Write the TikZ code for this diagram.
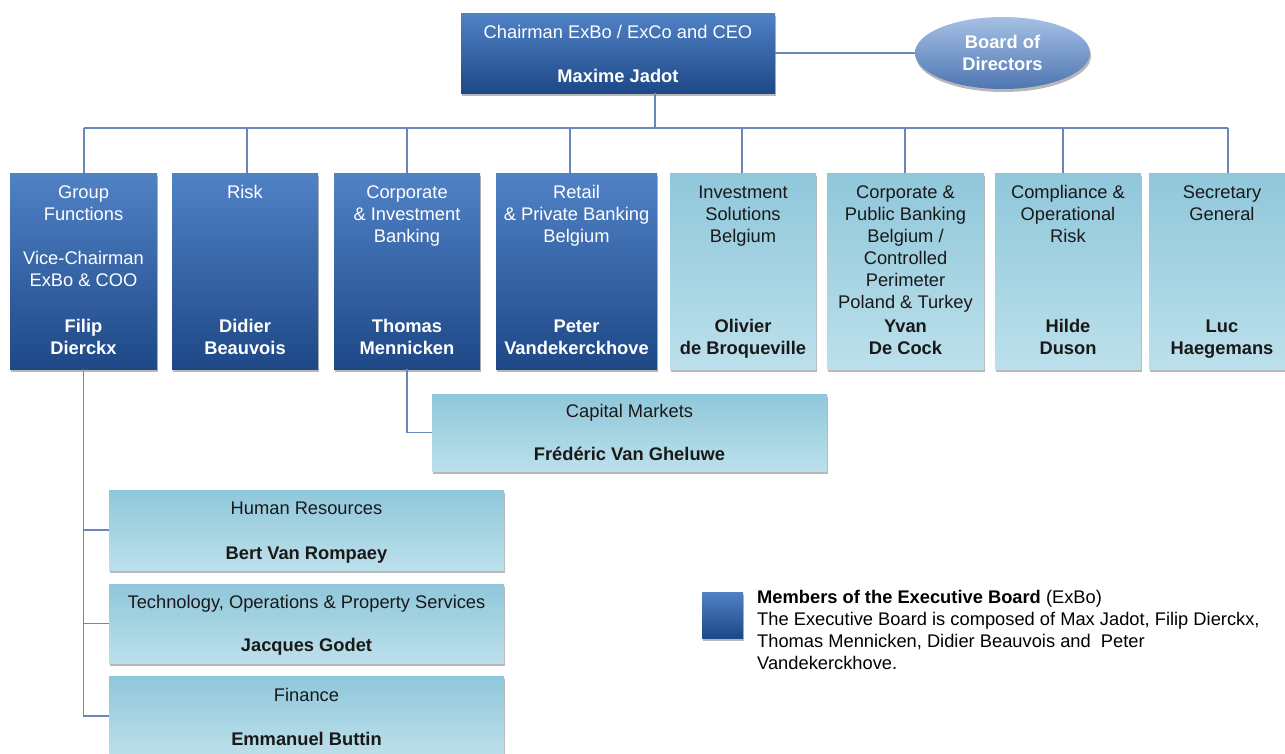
\documentclass[tikz,border=0pt]{standalone}
\usepackage{fontspec}
\setmainfont{Liberation Sans}
\usetikzlibrary{shapes.geometric,shadows}
\definecolor{dtop}{RGB}{80,130,198}
\definecolor{dbot}{RGB}{30,72,135}
\definecolor{ltop}{RGB}{143,199,218}
\definecolor{lbot}{RGB}{188,224,235}
\definecolor{conn}{RGB}{105,135,185}
\definecolor{ink}{RGB}{25,25,25}
\definecolor{etop}{RGB}{165,192,228}
\definecolor{ebot}{RGB}{78,118,178}
\newcommand{\obx}[6]{\parbox[c][#2][s]{#1}{\centering\vspace*{#3}\strut #5\par\vfill\strut\textbf{#6}\strut\par\vspace*{#4}}}
\tikzset{
  shad/.style={drop shadow={shadow xshift=1pt, shadow yshift=-3pt, opacity=.28, fill=black}},
  dbox/.style={shad, inner sep=0pt, top color=dtop, bottom color=dbot, text=white},
  lbox/.style={shad, inner sep=0pt, top color=ltop, bottom color=lbot, text=ink},
  conline/.style={draw=conn, line width=1.3pt},
  every node/.style={font=\fontsize{18.3}{22}\selectfont}
}
\begin{document}
\begin{tikzpicture}[x=1pt, y=-1pt]
\useasboundingbox (0,0) rectangle (1285,753);
\clip (0,0) rectangle (1285,753);
\fill[white] (0,0) rectangle (1285,753);

% bus coordinates
\coordinate (bj) at (655,128);
\coordinate (b1) at (84,128);
\coordinate (b2) at (247,128);
\coordinate (b3) at (407,128);
\coordinate (b4) at (570,128);
\coordinate (b5) at (742,128);
\coordinate (b6) at (905,128);
\coordinate (b7) at (1063,128);
\coordinate (b8) at (1228,128);

% top
\node[dbox] (ceo) at (618,53) {\obx{314pt}{80pt}{10pt}{4pt}{Chairman ExBo / ExCo and CEO}{Maxime Jadot}};
\node[ellipse, shad, inner sep=0pt, minimum width=175pt, minimum height=72pt, top color=etop, bottom color=ebot, text=white, align=center, font=\fontsize{18.3}{22}\selectfont\bfseries] (bod) at (1002.5,53) {Board of\\Directors};

% row
\node[dbox] (g1) at (83.5,271) {\obx{147pt}{196pt}{10pt}{8pt}{Group\\Functions\\[22pt]Vice-Chairman\\ExBo \& COO}{Filip\\Dierckx}};
\node[dbox] (g2) at (245,271) {\obx{146pt}{196pt}{10pt}{8pt}{Risk}{Didier\\Beauvois}};
\node[dbox] (g3) at (407,271) {\obx{146pt}{196pt}{10pt}{8pt}{Corporate\\\& Investment\\Banking}{Thomas\\Mennicken}};
\node[dbox] (g4) at (576.5,271) {\obx{161pt}{196pt}{10pt}{8pt}{Retail\\\& Private Banking\\Belgium}{Peter\\Vandekerckhove}};
\node[lbox] (g5) at (743,271) {\obx{146pt}{196pt}{10pt}{8pt}{Investment\\Solutions\\Belgium}{Olivier\\de Broqueville}};
\node[lbox] (g6) at (905.5,271) {\obx{157pt}{196pt}{10pt}{8pt}{Corporate \&\\Public Banking\\Belgium /\\Controlled\\Perimeter\\Poland \& Turkey}{Yvan\\De Cock}};
\node[lbox] (g7) at (1068,271) {\obx{146pt}{196pt}{10pt}{8pt}{Compliance \&\\Operational\\Risk}{Hilde\\Duson}};
\node[lbox] (g8) at (1222,271) {\obx{146pt}{196pt}{10pt}{8pt}{Secretary\\General}{Luc\\Haegemans}};

% sub boxes
\node[lbox] (cap) at (629.5,432.5) {\obx{395pt}{77pt}{8pt}{4pt}{Capital Markets}{Fr\'ed\'eric Van Gheluwe}};
\node[lbox] (hr) at (306.5,530) {\obx{395pt}{80pt}{9pt}{4pt}{Human Resources}{Bert Van Rompaey}};
\node[lbox] (tech) at (306.5,623.5) {\obx{395pt}{79pt}{9pt}{5pt}{Technology, Operations \& Property Services}{Jacques Godet}};
\node[lbox] (fin) at (306.5,716) {\obx{395pt}{80pt}{10pt}{4pt}{Finance}{Emmanuel Buttin}};

% connectors
\draw[conline] (ceo.south -| bj) -- (bj);
\draw[conline] (ceo.east) -- (bod.west);
\draw[conline] (b1) -- (b8);
\foreach \i in {1,...,8} {\draw[conline] (b\i) -- (b\i |- g\i.north);}
\draw[conline] (g3.south) |- (cap.west);
\draw[conline] (g1.south) |- (fin.west);
\draw[conline] (g1.south |- hr.west) -- (hr.west);
\draw[conline] (g1.south |- tech.west) -- (tech.west);

% legend
\node[dbox, minimum width=41pt, minimum height=46pt] (leg) at (722.5,615) {};
\node[anchor=north west, inner sep=0pt, align=left, text=black] (legt) at (757,588)
 {\strut\textbf{Members of the Executive Board} (ExBo)\\
  The Executive Board is composed of Max Jadot, Filip Dierckx,\\
  Thomas Mennicken, Didier Beauvois and\ \ Peter\\
  Vandekerckhove.};
\end{tikzpicture}
\end{document}
